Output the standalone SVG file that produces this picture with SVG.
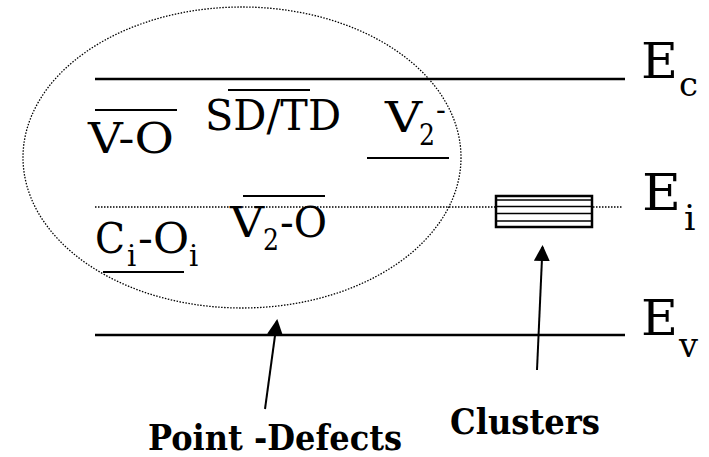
<svg xmlns="http://www.w3.org/2000/svg" width="709" height="457" viewBox="0 0 709 457">
<style>
text{font-family:"DejaVu Serif",serif;fill:#000}
.big{font-size:43px}
.sub{font-size:29px}
.lab{font-size:36px;font-weight:bold}
.band{stroke:#000;stroke-width:2.5;fill:none}
.bar{stroke:#000;stroke-width:2;fill:none}
.dot{stroke:#000;stroke-width:1.3;stroke-dasharray:1.5 1.5;fill:none}
.arr{stroke:#000;stroke-width:2;fill:none}
.hl{stroke:#000;stroke-width:1.5}
</style>
<defs>
<marker id="ah" markerWidth="8" markerHeight="8" refX="7" refY="4" orient="auto" markerUnits="strokeWidth">
<path d="M0,0 L8,4 L0,8 Z" fill="#000"/>
</marker>
</defs>
<rect width="709" height="457" fill="#fff"/>
<g id="bands">
<line class="band" x1="95" y1="79" x2="625" y2="79"/>
<line class="dot" x1="95" y1="207" x2="622" y2="207"/>
<line class="band" x1="95" y1="335" x2="625" y2="335"/>
<text x="641" y="78" font-size="49" textLength="37" lengthAdjust="spacingAndGlyphs">E</text>
<text x="679" y="96" font-size="34" textLength="19" lengthAdjust="spacingAndGlyphs">c</text>
<text x="642" y="210" font-size="51" textLength="39" lengthAdjust="spacingAndGlyphs">E</text>
<text x="684" y="230" font-size="36">i</text>
<text x="641" y="335" font-size="49" textLength="37" lengthAdjust="spacingAndGlyphs">E</text>
<text x="679" y="357" font-size="34" textLength="19" lengthAdjust="spacingAndGlyphs">v</text>
</g>
<g id="point-defects">
<ellipse class="dot" cx="242" cy="157.5" rx="219" ry="150.5"/>
<g id="VO">
<line class="bar" x1="95" y1="110" x2="177" y2="110"/>
<text class="big" x="88" y="153" textLength="86" lengthAdjust="spacingAndGlyphs">V-O</text>
</g>
<g id="SDTD">
<line class="bar" x1="228" y1="90" x2="310" y2="90"/>
<text class="big" x="205" y="130" textLength="136" lengthAdjust="spacingAndGlyphs">SD/TD</text>
</g>
<g id="V2m">
<text class="big" x="385" y="132" textLength="37" lengthAdjust="spacingAndGlyphs">V</text>
<text class="sub" x="419" y="145" textLength="16" lengthAdjust="spacingAndGlyphs">2</text>
<text class="sub" x="436" y="120">-</text>
<line class="bar" x1="367" y1="158" x2="449" y2="158"/>
</g>
<g id="V2O">
<line class="bar" x1="243" y1="196" x2="325" y2="196"/>
<text class="big" x="230" y="237" textLength="34" lengthAdjust="spacingAndGlyphs">V</text>
<text class="sub" x="263" y="250" textLength="16" lengthAdjust="spacingAndGlyphs">2</text>
<text class="big" x="280" y="237" textLength="47" lengthAdjust="spacingAndGlyphs">-O</text>
</g>
<g id="CiOi">
<text class="big" x="95" y="253" textLength="30" lengthAdjust="spacingAndGlyphs">C</text>
<text class="sub" x="127" y="266">i</text>
<text class="big" x="138" y="253" textLength="51" lengthAdjust="spacingAndGlyphs">-O</text>
<text class="sub" x="189" y="266">i</text>
<line class="bar" x1="103" y1="272" x2="184" y2="272"/>
</g>
</g>
<g id="clusters">
<rect x="496" y="196" width="96" height="31" fill="#fff" stroke="#000" stroke-width="2.5"/>
<line class="hl" x1="497" y1="200" x2="591" y2="200"/>
<line class="hl" x1="497" y1="206.5" x2="591" y2="206.5"/>
<line class="hl" x1="497" y1="213.5" x2="591" y2="213.5"/>
<line class="hl" x1="497" y1="221" x2="591" y2="221"/>
</g>
<g id="connectors">
<line class="arr" x1="265" y1="409" x2="277" y2="321" marker-end="url(#ah)"/>
<line class="arr" x1="537" y1="370" x2="542.5" y2="247" marker-end="url(#ah)"/>
</g>
<g id="labels">
<text class="lab" x="148" y="450" textLength="254" lengthAdjust="spacingAndGlyphs">Point -Defects</text>
<text class="lab" x="450" y="434" textLength="150" lengthAdjust="spacingAndGlyphs">Clusters</text>
</g>
</svg>
